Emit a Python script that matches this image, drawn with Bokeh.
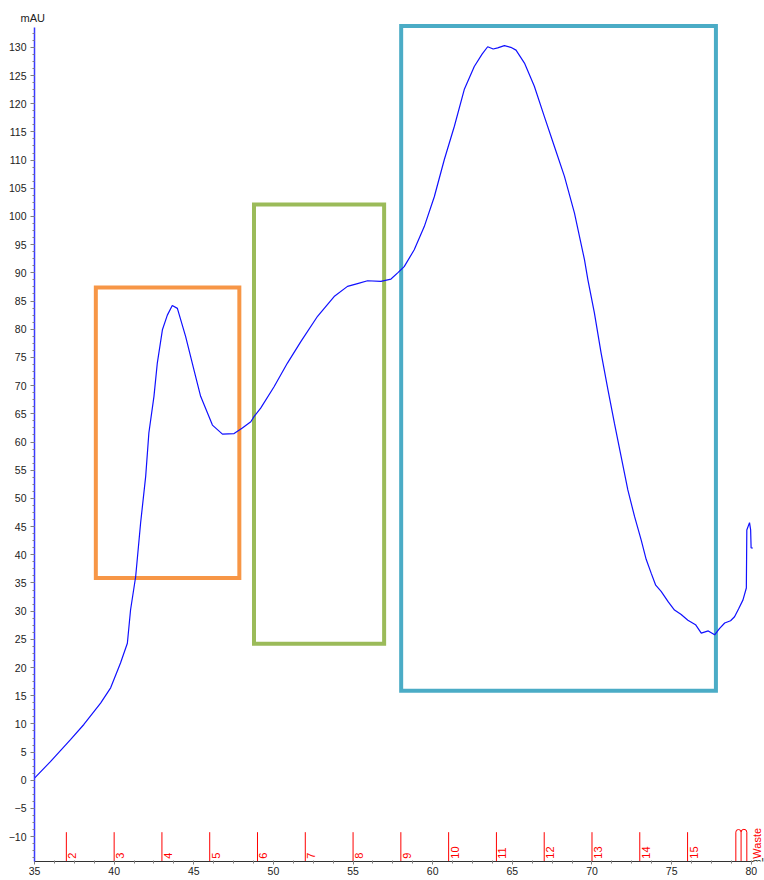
import numpy as np
from math import pi
from bokeh.plotting import figure
from bokeh.models import SingleIntervalTicker, Label, Title
from bokeh.core.properties import value
from bokeh.embed import file_html
from bokeh.resources import INLINE

# ---- data ----
time_min = [35.0, 36.0, 37.26, 38.1, 39.15, 39.78, 40.4, 40.83, 41.03, 41.35, 41.66, 41.98,
            42.18, 42.5, 42.71, 43.03, 43.34, 43.65, 43.97, 44.49, 45.01, 45.43, 46.17, 46.8,
            47.53, 48.05, 48.58, 48.78, 49.2, 50.04, 50.88, 51.72, 52.77, 53.81, 54.65, 55.28,
            55.91, 56.75, 57.38, 57.8, 58.21, 58.84, 59.47, 60.1, 60.73, 61.36, 61.98, 62.61,
            63.1, 63.45, 63.8, 64.08, 64.5, 64.9, 65.23, 65.76, 66.38, 67.01, 67.64, 68.27,
            68.9, 69.53, 69.74, 70.15, 70.57, 71.0, 71.41, 71.83, 72.25, 72.67, 73.09, 73.4,
            73.72, 74.0, 74.34, 74.8, 75.18, 75.6, 76.02, 76.5, 76.86, 77.3, 77.7, 78.0,
            78.33, 78.7, 78.95, 79.2, 79.48, 79.69, 79.72, 79.89, 79.96, 79.99, 80.1]
mau = [0.4, 3.3, 7.2, 9.9, 13.7, 16.4, 20.8, 24.3, 30.2, 36.1, 45.6, 53.9,
       61.6, 68.1, 74.0, 79.9, 82.5, 84.2, 83.7, 78.7, 72.8, 68.1, 63.0, 61.4,
       61.5, 62.5, 63.6, 64.5, 66.0, 69.8, 74.0, 77.8, 82.3, 85.8, 87.6, 88.1,
       88.6, 88.5, 88.9, 90.0, 91.1, 94.1, 98.2, 103.5, 110.1, 116.0, 122.5, 126.6,
       128.8, 130.1, 129.7, 129.9, 130.3, 130.0, 129.5, 127.2, 123.1, 117.7, 112.4, 107.1,
       100.6, 92.3, 88.8, 82.9, 75.8, 69.3, 63.3, 57.4, 51.5, 46.8, 42.6, 39.2,
       36.7, 34.6, 33.5, 31.6, 30.2, 29.4, 28.4, 27.6, 26.1, 26.5, 25.8, 26.9,
       27.9, 28.3, 29.0, 30.4, 32.0, 34.1, 44.4, 45.7, 44.4, 41.2, 41.2]

fraction_pos = [37, 40, 43, 46, 49, 52, 55, 58, 61, 64, 67, 70, 73, 76]
fraction_labels = ["2", "3", "4", "5", "6", "7", "8", "9", "10", "11", "12", "13", "14", "15"]
waste_pos = [79.03, 79.36, 79.72]
waste_label = "Waste"

box_left = [38.85, 48.78, 58.02]
box_right = [47.86, 56.95, 77.78]
box_bottom = [35.9, 24.2, 15.9]
box_top = [87.4, 102.1, 133.8]
box_colors = ["#F79646", "#9BBB59", "#4BACC6"]

# ---- figure ----
Y0, Y1 = -14.4, 134.4
X0, X1 = 35, 80.83
X_AXIS_END = 80.15
p = figure(width=764, height=880, x_range=(X0, X1), y_range=(Y0, Y1),
           output_backend="svg", toolbar_location=None,
           min_border_left=34, min_border_right=0, min_border_top=22, min_border_bottom=19)
p.outline_line_color = None
p.xgrid.visible = False
p.ygrid.visible = False
p.background_fill_color = "white"

FONT = "Liberation Sans"

p.title = Title(text="mAU", align="left", offset=-14, standoff=-3, vertical_align="bottom",
                text_font=FONT, text_font_size="11px", text_font_style="normal",
                text_color="#222222")

xa = p.xaxis[0]
xa.ticker = SingleIntervalTicker(interval=5, num_minor_ticks=4)
xa.bounds = (X0, X_AXIS_END)
xa.axis_line_color = "#333333"
xa.major_tick_line_color = "#808080"
xa.minor_tick_line_color = "#808080"
xa.major_tick_out = 3
xa.major_tick_in = 0
xa.minor_tick_out = 2
xa.minor_tick_in = 1
xa.major_label_standoff = 2
xa.major_label_text_font = FONT
xa.major_label_text_font_size = "10.5px"
xa.major_label_text_color = "#222222"

ya = p.yaxis[0]
ya.ticker = SingleIntervalTicker(interval=5, num_minor_ticks=4)
ya.bounds = (Y0, 133.5)
ya.axis_line_color = "#3a3aff"
ya.axis_line_width = 1.5
ya.major_tick_line_color = "#808080"
ya.minor_tick_line_color = "#808080"
ya.major_tick_out = 4
ya.major_tick_in = 0
ya.minor_tick_out = 2
ya.minor_tick_in = 0
ya.major_label_standoff = 4
ya.major_label_text_font = FONT
ya.major_label_text_font_size = "10.5px"
ya.major_label_text_color = "#222222"

# boxes
p.quad(left=box_left, right=box_right, bottom=box_bottom, top=box_top,
       fill_alpha=0, line_color=box_colors, line_width=4, line_join="miter")

# chromatogram curve
p.line(time_min, mau, line_color="#1010ff", line_width=1.2)

# fraction marks
FR_TOP = -9.2
p.segment(x0=fraction_pos, y0=[Y0] * len(fraction_pos), x1=fraction_pos,
          y1=[FR_TOP] * len(fraction_pos), line_color="#ff0000", line_width=1)
p.text(x=fraction_pos, y=[-13.9] * len(fraction_pos), text=fraction_labels,
       angle=pi / 2, text_align="left", text_baseline="top", x_offset=2,
       text_font=value(FONT), text_font_size="11px", text_color="#ff0000")

# waste marks
wp = np.array(waste_pos)
p.segment(x0=wp, y0=[Y0] * len(wp), x1=wp, y1=[FR_TOP] * len(wp),
          line_color="#ff0000", line_width=1)
mids = (wp[:-1] + wp[1:]) / 2
rads = (wp[1:] - wp[:-1]) / 2
p.arc(x=mids, y=[FR_TOP] * len(mids), radius=rads, start_angle=0, end_angle=pi,
      line_color="#ff0000", line_width=1)
p.text(x=[wp[-1]], y=[-13.9], text=[waste_label], angle=pi / 2, text_align="left",
       text_baseline="top", x_offset=4, text_font=value(FONT), text_font_size="11px",
       text_color="#ff0000")

# x-axis unit at the end of the axis
p.add_layout(Label(x=X_AXIS_END, y=Y0, text="ml", x_offset=-1, text_align="left",
                   text_baseline="middle", text_font=FONT, text_font_size="10.5px",
                   text_color="#222222"))

open("out.html", "w").write(file_html(p, INLINE))
